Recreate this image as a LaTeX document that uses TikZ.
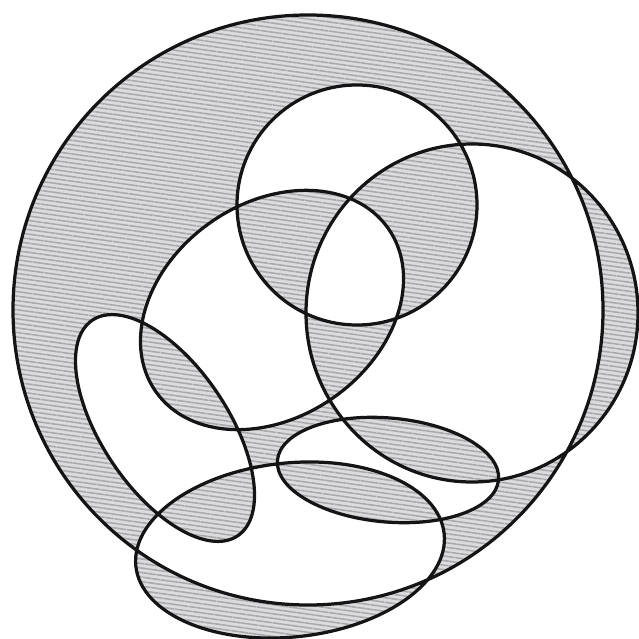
\documentclass[tikz,border=0pt]{standalone}
\usetikzlibrary{calc,patterns.meta}
\definecolor{ink}{HTML}{141414}
\definecolor{lead}{HTML}{DCDCDF}
\definecolor{graphite}{HTML}{A9A9AD}
\tikzset{
  every picture/.style={line width=2.3pt,draw=ink},
  rim/.style={draw=ink,line width=2.3pt},
  pencil/.style={rim,even odd rule,preaction={fill=lead,even odd rule},
    pattern={Lines[angle=-8,distance=3.2pt,line width=1.1pt]},pattern color=graphite},
}
\begin{document}
\begin{tikzpicture}[x=0.25mm,y=0.25mm]
  \useasboundingbox (0,0) rectangle (639,-639);
  \coordinate (big) at (308,-310);
  \coordinate (top) at (357,-205);
  \coordinate (rgt) at (472,-313);
  \coordinate (mid) at (272,-310);
  \coordinate (drop) at (165,-428);
  \coordinate (lowr) at (388,-470);
  \coordinate (bot) at (290,-550);
  % odd overlaps come out shaded
  \filldraw[pencil]
    (big) circle [radius=295]
    (top) circle [radius=120]
    (rgt) ellipse [x radius=166,y radius=169]
    (mid) ellipse [x radius=142,y radius=107,rotate=35]
    (drop) ellipse [x radius=130,y radius=63,rotate=-56]
    (lowr) ellipse [x radius=111,y radius=52,rotate=-5]
    (bot) ellipse [x radius=155,y radius=87,rotate=6];
\end{tikzpicture}
\end{document}
